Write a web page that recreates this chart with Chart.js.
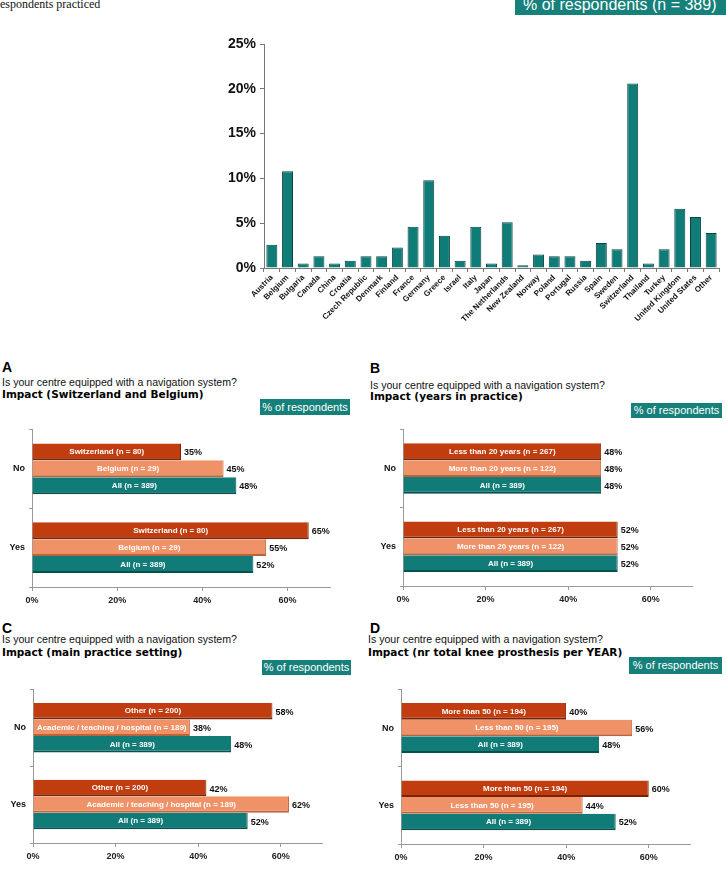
<!DOCTYPE html>
<html><head><meta charset="utf-8">
<script src="https://cdn.jsdelivr.net/npm/chart.js@4.4.0/dist/chart.umd.min.js"></script>
<style>
body{margin:0;width:726px;height:875px;background:#fff;position:relative;overflow:hidden;font-family:"Liberation Sans",Arial,sans-serif;}
.abs{position:absolute;white-space:nowrap;}
.letter{font:bold 14px "Liberation Sans";line-height:14px;color:#000}
.q{font:10.6px "Liberation Sans";line-height:11px;color:#111}
.imp{font:bold 10.5px "DejaVu Sans";line-height:10.5px;color:#000}
.box{background:#16807a;color:#fff;font:11px "Liberation Sans";text-align:center;}
canvas{position:absolute}
</style></head>
<body>
<div class="abs" style="left:0;top:-2px;font:12px 'Liberation Serif';line-height:12px;color:#111">espondents practiced</div>
<div class="abs" style="left:515px;top:0;width:211px;height:15px;overflow:hidden;background:#16807a;">
  <div style="position:absolute;left:8px;top:-3.5px;font:16px 'Liberation Sans';line-height:16px;color:#fff;white-space:nowrap">% of respondents (n = 389)</div>
</div>
<canvas id="top" width="526" height="300" style="left:200px;top:30px"></canvas>

<div class="abs letter" style="left:2px;top:360px">A</div>
<div class="abs q" style="left:2px;top:377px">Is your centre equipped with a navigation system?</div>
<div class="abs imp" style="left:2px;top:389px">Impact (Switzerland and Belgium)</div>
<div class="abs box" style="left:260px;top:399px;width:90px;height:16px;line-height:16px">% of respondents</div>
<canvas id="pa" width="360" height="190" style="left:0;top:420px"></canvas>

<div class="abs letter" style="left:370px;top:361px">B</div>
<div class="abs q" style="left:370px;top:380px">Is your centre equipped with a navigation system?</div>
<div class="abs imp" style="left:370px;top:391px">Impact (years in practice)</div>
<div class="abs box" style="left:631px;top:403px;width:91px;height:15px;line-height:15px">% of respondents</div>
<canvas id="pb" width="366" height="190" style="left:360px;top:420px"></canvas>

<div class="abs letter" style="left:2px;top:621px">C</div>
<div class="abs q" style="left:2px;top:634px">Is your centre equipped with a navigation system?</div>
<div class="abs imp" style="left:2px;top:647px">Impact (main practice setting)</div>
<div class="abs box" style="left:262px;top:660px;width:89px;height:15px;line-height:15px">% of respondents</div>
<canvas id="pc" width="360" height="185" style="left:0;top:680px"></canvas>

<div class="abs letter" style="left:370px;top:621px">D</div>
<div class="abs q" style="left:368px;top:634px">Is your centre equipped with a navigation system?</div>
<div class="abs imp" style="left:368px;top:647px">Impact (nr total knee prosthesis per YEAR)</div>
<div class="abs box" style="left:629px;top:657px;width:93px;height:17px;line-height:17px">% of respondents</div>
<canvas id="pd" width="366" height="185" style="left:360px;top:680px"></canvas>

<script>
// ---- data ----
const countries = ['Austria','Belgium','Bulgaria','Canada','China','Croatia','Czech Republic','Denmark','Finland','France','Germany','Greece','Israel','Italy','Japan','The Netherlands','New Zealand','Norway','Poland','Portugal','Russia','Spain','Sweden','Switzerland','Thailand','Turkey','United Kingdom','United States','Other'];
const countryPct = [2.6,10.8,0.5,1.3,0.5,0.8,1.3,1.3,2.3,4.6,9.8,3.6,0.8,4.6,0.5,5.1,0.3,1.5,1.3,1.3,0.8,2.8,2.1,20.6,0.5,2.1,6.6,5.7,3.9];

const answers = ['No','Yes'];

const aSeries = ['Switzerland (n = 80)','Belgium (n = 29)','All (n = 389)'];
const aSwitzerland = [35,65];
const aBelgium = [45,55];
const aAll = [48,52];

const bSeries = ['Less than 20 years (n = 267)','More than 20 years (n = 122)','All (n = 389)'];
const bLess20 = [48,52];
const bMore20 = [48,52];
const bAll = [48,52];

const cSeries = ['Other (n = 200)','Academic / teaching / hospital (n = 189)','All (n = 389)'];
const cOther = [58,42];
const cAcademic = [38,62];
const cAll = [48,52];

const dSeries = ['More than 50 (n = 194)','Less than 50 (n = 195)','All (n = 389)'];
const dMore50 = [40,60];
const dLess50 = [56,44];
const dAll = [48,52];

// ---- styles ----
const fills = ['#c13c0e','#f09268','#117c77'];
const edges = ['#7a2205','#b9643d','#07514d'];
const FF = '"Liberation Sans", Arial, sans-serif';
Chart.defaults.font.family = FF;
Chart.defaults.animation = false;

const barLabels = {
  id:'barLabels',
  afterDatasetsDraw(chart){
    const ctx = chart.ctx;
    chart.data.datasets.forEach((ds,i)=>{
      const meta = chart.getDatasetMeta(i);
      meta.data.forEach((bar,j)=>{
        const p = bar.getProps(['x','y','base'],true);
        ctx.save();
        ctx.font = 'bold 8px ' + FF;
        ctx.fillStyle = '#fff'; ctx.textAlign = 'center'; ctx.textBaseline = 'middle';
        ctx.fillText(ds.label,(p.x+p.base)/2,p.y);
        ctx.font = 'bold 9px ' + FF;
        ctx.fillStyle = '#111'; ctx.textAlign = 'left';
        ctx.fillText(ds.data[j]+'%', p.x+3, p.y+1);
        ctx.restore();
      });
    });
  }
};

new Chart(document.getElementById('top'),{
  type:'bar',
  data:{labels:countries,datasets:[{data:countryPct,backgroundColor:'#0f7c77',borderColor:'#0a4542',borderWidth:1,barPercentage:0.7,categoryPercentage:1}]},
  options:{responsive:false,animation:false,
    layout:{padding:{top:14,right:7,left:0,bottom:0}},
    plugins:{legend:{display:false},tooltip:{enabled:false}},
    scales:{
      x:{ticks:{autoSkip:false,maxRotation:45,minRotation:45,font:{size:8,weight:'bold'},color:'#111',padding:1},
         grid:{drawOnChartArea:false,tickLength:4,color:'#777'},border:{color:'#777'},
         afterFit(s){s.height=62;}},
      y:{min:0,max:25,ticks:{stepSize:5,callback:v=>v+'%',font:{size:14,weight:'bold'},color:'#111',padding:4},
         grid:{drawOnChartArea:false,tickLength:4,color:'#777'},border:{color:'#777'},
         afterFit(s){s.width=64;}}
    }}
});

function panel(id, names, series, g){
  new Chart(document.getElementById(id),{
    type:'bar',
    data:{labels:answers,datasets:series.map((d,i)=>({label:names[i],data:d,backgroundColor:fills[i],borderColor:edges[i],
      borderWidth:{top:0,left:0,right:1,bottom:2},borderSkipped:false,barPercentage:1,categoryPercentage:0.645}))},
    options:{indexAxis:'y',responsive:false,animation:false,
      layout:{padding:{top:g.pt,right:g.pr,left:0,bottom:0}},
      plugins:{legend:{display:false},tooltip:{enabled:false}},
      scales:{
        x:{min:0,max:70,
           afterBuildTicks(s){s.ticks=s.ticks.filter(t=>t.value%20===0);},
           ticks:{stepSize:20,callback:v=>v+'%',font:{size:9,weight:'bold'},color:'#222',padding:4},
           grid:{drawOnChartArea:false,tickLength:4,color:'#999'},border:{color:'#999'},
           afterFit(s){s.height=g.xh;}},
        y:{ticks:{font:{size:9,weight:'bold'},color:'#111',padding:4},
           grid:{drawOnChartArea:false,tickLength:3,color:'#999'},border:{color:'#999'},
           afterFit(s){s.width=g.yw;}}
      }},
    plugins:[barLabels]
  });
}

panel('pa',aSeries,[aSwitzerland,aBelgium,aAll],{pt:8,pr:30,xh:23,yw:32});
panel('pb',bSeries,[bLess20,bMore20,bAll],{pt:8,pr:34,xh:24,yw:43});
panel('pc',cSeries,[cOther,cAcademic,cAll],{pt:7,pr:38,xh:22,yw:33});
panel('pd',dSeries,[dMore50,dLess50,dAll],{pt:7,pr:36,xh:21,yw:41});
</script>
</body></html>
